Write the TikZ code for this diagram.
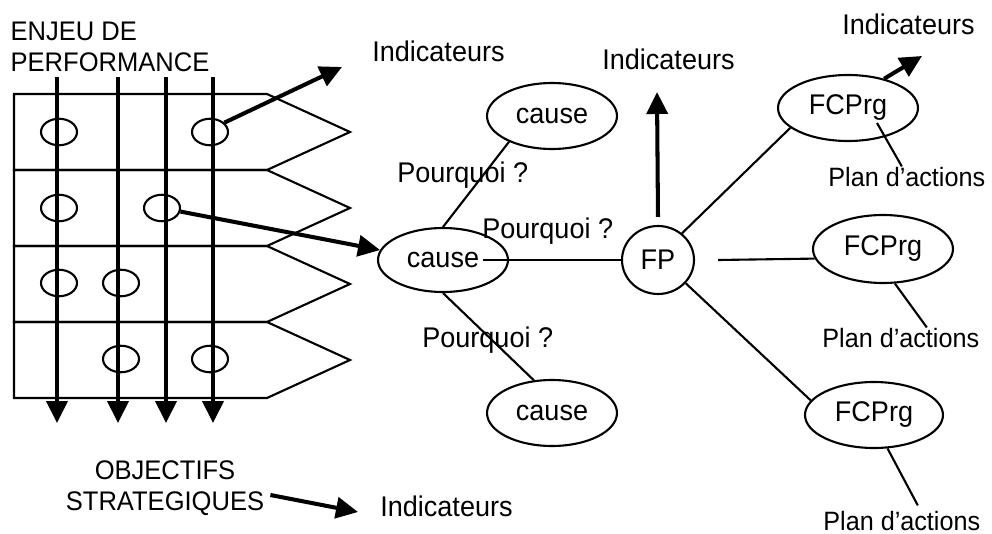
\documentclass[tikz,border=0pt]{standalone}
\usepackage{fontspec}
\setmainfont{Liberation Sans}[FakeStretch=0.95]
\usetikzlibrary{shapes.geometric,arrows.meta}

\begin{document}
\begin{tikzpicture}[x=0.02cm, y=-0.02cm,
        trait/.style={line width=1.2pt},
        fleche/.style={line width=2.3pt, -{Triangle[length=0.44cm, width=0.42cm]}},
        bulle/.style={ellipse, draw, line width=1.2pt, inner sep=0pt, minimum width=2.6cm, minimum height=1.32cm, font=\fontsize{16.2}{19}\selectfont},
        petite/.style={ellipse, draw, line width=1.2pt, inner sep=0pt, minimum width=0.72cm, minimum height=0.53cm},
        txt/.style={inner sep=0pt, anchor=base west, font=\fontsize{16.2}{19}\selectfont},
        capit/.style={inner sep=0pt, font=\fontsize{15.3}{17.6}\selectfont},
        plan/.style={txt, font=\fontsize{15.1}{18}\selectfont}]
        \useasboundingbox (0,0) rectangle (992,534);
        % bandeaux des enjeux
        \foreach \t in {94,170,246,322} {
            \draw[trait] (14,\t) -- (267,\t) -- (350,\t+38) -- (267,\t+76) -- (14,\t+76) -- cycle;
        }
        \foreach \x in {57,118,166,213} {
            \draw[fleche] (\x,77) -- (\x,423);
        }
        \node[petite] (e11) at (59,132) {};
        \node[petite] (e14) at (210,132) {};
        \node[petite] (e21) at (59,208) {};
        \node[petite] (e23) at (162,208) {};
        \node[petite] (e31) at (59,283) {};
        \node[petite] (e32) at (121,283) {};
        \node[petite] (e42) at (121,359) {};
        \node[petite] (e44) at (210,359) {};
        \node[capit, align=left] (enjeu) at (110,47) {ENJEU DE\\PERFORMANCE};
        \node[capit, align=center] (objs) at (165,488) {OBJECTIFS\\STRATEGIQUES};
        % causes et facteurs
        \node[bulle] (ctop) at (552,116) {cause};
        \node[bulle, minimum height=1.28cm] (cmid) at (443,260) {cause};
        \node[bulle] (cbot) at (552,413) {cause};
        \node[bulle, minimum width=1.44cm, minimum height=1.36cm] (fp) at (658,260) {FP};
        \node[bulle, minimum width=2.8cm] (ft) at (848,108) {FCPrg};
        \node[bulle, minimum width=2.8cm, minimum height=1.36cm] (fm) at (883,249) {FCPrg};
        \node[bulle, minimum width=2.76cm] (fb) at (874,415) {FCPrg};
        \node[txt] (ia) at (372,61) {Indicateurs};
        \node[txt] (ib) at (602,70) {Indicateurs};
        \node[txt] (ic) at (842,34) {Indicateurs};
        \node[txt] (id) at (380,516) {Indicateurs};
        \node[txt] (pq1) at (397,182) {Pourquoi ?};
        \node[txt] (pq2) at (482,238) {Pourquoi ?};
        \node[txt] (pq3) at (422,347) {Pourquoi ?};
        \node[plan] (pt) at (828,186) {Plan d’actions};
        \node[plan] (pm) at (822,347) {Plan d’actions};
        \node[plan] (pb) at (823,530) {Plan d’actions};
        \draw[trait] (ctop.211) -- (cmid.north);
        \draw[trait] (cmid.south) -- (cbot.119);
        \draw[trait] ([xshift=0.8cm]cmid.center) -- (fp.west);
        \draw[trait] (fp.48) -- (ft.199);
        \draw[trait] ([xshift=0.46cm]fp.east) -- (fm.188);
        \draw[trait] (fp.-40) -- (fb.167);
        \draw[trait] ([shift={(29,15)}]ft.center) -- ([xshift=-0.1cm]pt.north);
        \draw[trait] (fm.-71) -- ([xshift=0.52cm]pm.north);
        \draw[trait] (fb.-68) -- ([shift={(16,-5)}]pb.north);
        % indicateurs
        \coordinate (tipA) at (342,67);
        \coordinate (tipFP) at (657,92);
        \coordinate (tipFT) at (922,56);
        \coordinate (tipOS) at (358,512);
        \draw[fleche] (e14.33) -- (tipA);
        \draw[fleche] (e23) -- (cmid.171);
        \draw[fleche] ([yshift=0.16cm]fp.north) -- (tipFP);
        \draw[fleche] (ft.39) -- (tipFT);
        \draw[fleche] ([shift={(6,7)}]objs.east) -- (tipOS);
\end{tikzpicture}
\end{document}
